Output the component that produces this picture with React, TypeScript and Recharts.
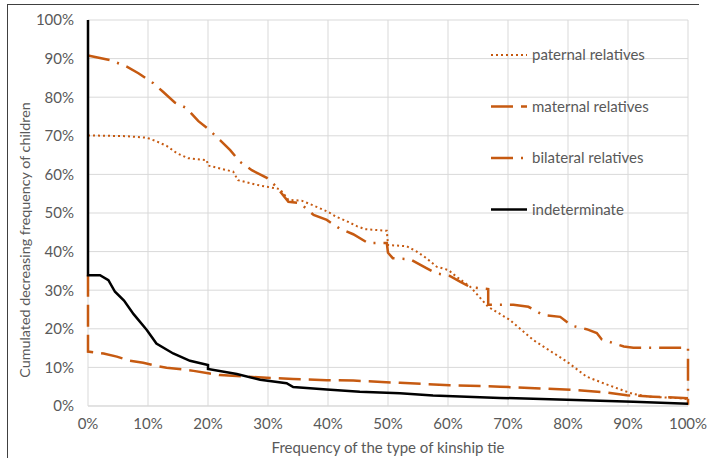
import { LineChart, Line, XAxis, YAxis, CartesianGrid } from "recharts";

// x = frequency of the type of kinship tie (%), y = cumulated decreasing frequency (%)
const paternalX = [0, 6.4, 9.8, 11.2, 13.1, 14.8, 16.7, 19.8, 20, 24.2, 25, 28.7, 32, 33.4, 35.6, 38.1, 40, 41.4, 43.1, 44.8, 46.2, 49.8, 50, 53.1, 54.8, 56.4, 58.1, 60.1, 61.4, 63.7, 66.7, 70.3, 74.2, 79.8, 83.1, 85.9, 88.7, 90.9, 93.7, 98.7, 100];
const paternalY = [70.1, 69.9, 69.5, 68.7, 67.4, 65.5, 64.2, 63.7, 62.3, 60.7, 58.5, 57.1, 56.2, 53.4, 53.2, 51.6, 50.3, 49, 47.9, 46.6, 45.8, 45.4, 41.7, 41.4, 40, 38.3, 36.1, 35.2, 33.5, 30.9, 25.7, 22.3, 17.1, 11.5, 7.6, 5.9, 4.3, 3.1, 2.4, 2, 1.8];

const maternalX = [0, 0, 2.6, 4.8, 7, 9.2, 11.4, 13.1, 15.9, 17.6, 20.3, 22, 26.4, 29.8, 34.2, 39.8, 44.2, 52, 60.3, 68.7, 76.4, 81.4, 86.4, 89.8, 94.2, 97.6, 100];
const maternalY = [34, 14.1, 13.6, 12.8, 11.7, 11.2, 10.4, 9.9, 9.5, 9.1, 8.4, 8, 7.6, 7.3, 7, 6.7, 6.6, 6, 5.4, 5, 4.5, 4.1, 3.5, 2.8, 2.4, 2.2, 2];

const bilateralX = [0, 3.7, 6.4, 8.4, 10.9, 12.5, 14.5, 16.4, 18.4, 20, 22, 23.7, 25.3, 27.3, 29.8, 31.4, 33.4, 35.3, 37.6, 39.8, 42, 44.2, 46.7, 49.8, 50, 50.8, 53.7, 56.4, 58, 60.3, 62, 63.7, 66.7, 66.7, 70.9, 73.4, 75.8, 78.7, 80.6, 83.1, 84.8, 85.6, 87.5, 89.3, 90.9, 100, 100];
const bilateralY = [90.8, 89.6, 88, 86.2, 83.6, 81.4, 78.6, 77.2, 73.8, 71.8, 68.9, 66.3, 63.3, 61.1, 59.1, 56.8, 52.9, 52.6, 49.5, 48.2, 45.9, 44.5, 42.2, 42.2, 39.7, 38.3, 38, 35.7, 34.4, 33.7, 32.2, 30.8, 30.3, 26.2, 26.2, 25.7, 23.6, 23.1, 20.8, 19.9, 18.9, 17.3, 16.3, 15.4, 15.1, 15.1, 0.3];

const indeterminateX = [0, 0, 2, 3.4, 4.5, 6, 7.6, 9.8, 11.4, 14.2, 17, 20, 20, 24.8, 28.7, 33.1, 34.2, 39.8, 45.3, 52, 57.5, 68.7, 79.8, 90.9, 100];
const indeterminateY = [100, 33.9, 33.9, 32.6, 29.6, 27.3, 23.8, 19.7, 16.2, 13.6, 11.7, 10.6, 9.6, 8.3, 6.8, 5.9, 4.9, 4.3, 3.7, 3.3, 2.7, 2.1, 1.6, 1.1, 0.6];

const ticks = [0, 10, 20, 30, 40, 50, 60, 70, 80, 90, 100];

const zip = (xs: number[], ys: number[]) => xs.map((x, i) => ({ x, y: ys[i] }));

const ORANGE = "#C65A11";
const FONT = "Lato, 'Liberation Sans', sans-serif";
const TEXT = "#595959";

const series = [
  { name: "paternal relatives", data: zip(paternalX, paternalY), color: ORANGE, dash: "2 3", width: 2 },
  { name: "maternal relatives", data: zip(maternalX, maternalY), color: ORANGE, dash: "22 8", width: 2.5 },
  { name: "bilateral relatives", data: zip(bilateralX, bilateralY), color: ORANGE, dash: "22 8 2 8", width: 2.5 },
  { name: "indeterminate", data: zip(indeterminateX, indeterminateY), color: "#000000", dash: undefined, width: 2.5 },
];

// legend sits inside the plot, top right, like the Excel original
const LegendBox = () => (
  <svg width={200} height={180} style={{ position: "absolute", left: 490, top: 40 }}>
    {series.map((s, i) => {
      const y = 15 + i * 51.5;
      return (
        <g key={s.name}>
          <line x1={1} x2={37} y1={y} y2={y} stroke={s.color} strokeWidth={s.width} strokeDasharray={s.dash} />
          <text x={42} y={y + 5} fontSize={15} fontFamily={FONT} fill={TEXT}>
            {s.name}
          </text>
        </g>
      );
    })}
  </svg>
);

// y axis title, Excel puts it a bit lower than the plot centre
const YTitle = () => (
  <svg width={40} height={458} style={{ position: "absolute", left: 0, top: 0 }}>
    <text
      transform="translate(30,240) rotate(-90)"
      textAnchor="middle"
      fontSize={14.3}
      fontFamily={FONT}
      fill={TEXT}
    >
      Cumulated decreasing frequency of children
    </text>
  </svg>
);

export default function App() {
  return (
    <div style={{ position: "absolute", left: 0, top: 0, width: 709, height: 458, background: "#fff", overflow: "hidden" }}>
      <div
        style={{
          position: "absolute",
          left: 7,
          top: 4,
          width: 691,
          height: 460,
          borderLeft: "1.5px solid #404040",
          borderTop: "1.5px solid #404040",
        }}
      />
      <div style={{ position: "absolute", left: 0, top: 0 }}>
        <LineChart width={709} height={458} margin={{ top: 20, right: 21, left: 0, bottom: 0 }}>
          <CartesianGrid stroke="#d9d9d9" strokeWidth={1} />
          <XAxis
            dataKey="x"
            type="number"
            domain={[0, 100]}
            ticks={ticks}
            interval={0}
            tickFormatter={(v) => `${v}%`}
            height={52}
            axisLine={{ stroke: "#d9d9d9" }}
            tickLine={false}
            tickMargin={6}
            tick={{ fontSize: 15, fill: TEXT, fontFamily: FONT }}
            allowDuplicatedCategory={false}
            label={{
              value: "Frequency of the type of kinship tie",
              position: "insideBottom",
              offset: 5,
              style: { fontSize: 15, fill: TEXT, fontFamily: FONT },
            }}
          />
          <YAxis
            type="number"
            domain={[0, 100]}
            ticks={ticks}
            interval={0}
            tickFormatter={(v) => `${v}%`}
            width={88}
            axisLine={false}
            tickLine={false}
            tickMargin={8}
            tick={{ fontSize: 15, fill: TEXT, fontFamily: FONT }}
          />
          {series.map((s) => (
            <Line
              key={s.name}
              data={s.data}
              dataKey="y"
              name={s.name}
              type="linear"
              stroke={s.color}
              strokeWidth={s.width}
              strokeDasharray={s.dash}
              dot={false}
              activeDot={false}
              isAnimationActive={false}
            />
          ))}
        </LineChart>
      </div>
      <YTitle />
      <LegendBox />
    </div>
  );
}
